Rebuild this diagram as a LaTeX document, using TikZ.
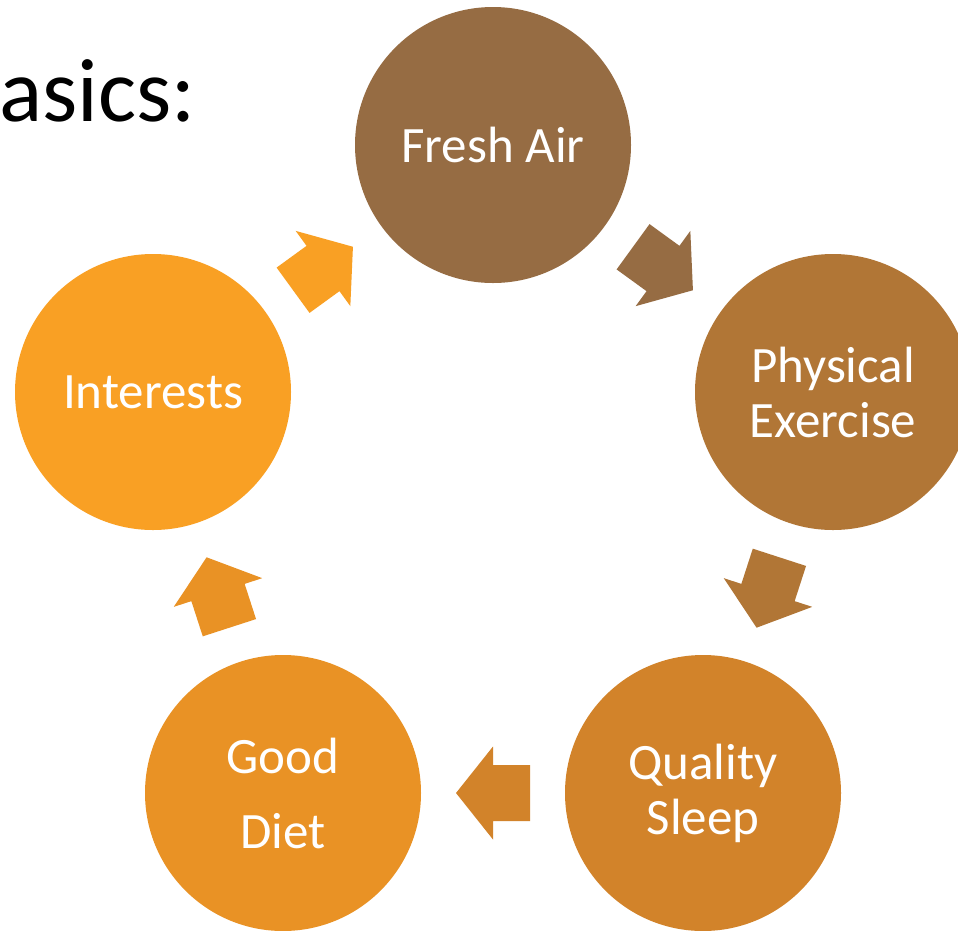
\documentclass[tikz,border=0pt]{standalone}
\usepackage{fontspec}
\setmainfont{Carlito}
\usetikzlibrary{calc}
\definecolor{cFA}{HTML}{966C43}
\definecolor{cPE}{HTML}{B17636}
\definecolor{cQS}{HTML}{D2832A}
\definecolor{cGD}{HTML}{E99225}
\definecolor{cIN}{HTML}{F9A024}
\tikzset{
  bubble/.style={circle, minimum size=276pt, inner sep=0pt, text=white, align=center,
                 font=\fontsize{51}{55}\selectfont},
}
\newcommand\blockarrow[3]{%
  \path coordinate (m) at ($(#1)!0.5!(#2)$)
        coordinate (t) at ($(m)!-37pt!(#2)$)
        coordinate (h) at ($(m)!37pt!(#2)$);
  \fill[#3] ($(t)!28pt!90:(h)$) -- ($(m)!28pt!90:(h)$) -- ($(m)!46.5pt!90:(h)$) -- (h)
        -- ($(m)!46.5pt!-90:(h)$) -- ($(m)!28pt!-90:(h)$) -- ($(t)!28pt!-90:(h)$) -- cycle;}
\begin{document}
\begin{tikzpicture}[x=1pt,y=-1pt]
\useasboundingbox (0,0) rectangle (958,930);
\fill[white] (0,0) rectangle (958,930);
\node[anchor=base west, inner sep=0pt, font=\fontsize{90}{100}\selectfont] (title) at (-1,121) {asics:};
\node[bubble, fill=cFA] (fa) at (493,145) {Fresh Air};
\node[bubble, fill=cPE] (pe) at (833,392) {Physical\\Exercise};
\node[bubble, fill=cQS] (qs) at (703,793) {Quality\\Sleep};
\node[bubble, fill=cGD] (gd) at (283,793) {Good\\[20pt]Diet};
\node[bubble, fill=cIN] (in) at (153,392) {Interests};
\blockarrow{fa}{pe}{cFA}
\blockarrow{pe}{qs}{cPE}
\blockarrow{qs}{gd}{cQS}
\blockarrow{gd}{in}{cGD}
\blockarrow{in}{fa}{cIN}
\end{tikzpicture}
\end{document}
